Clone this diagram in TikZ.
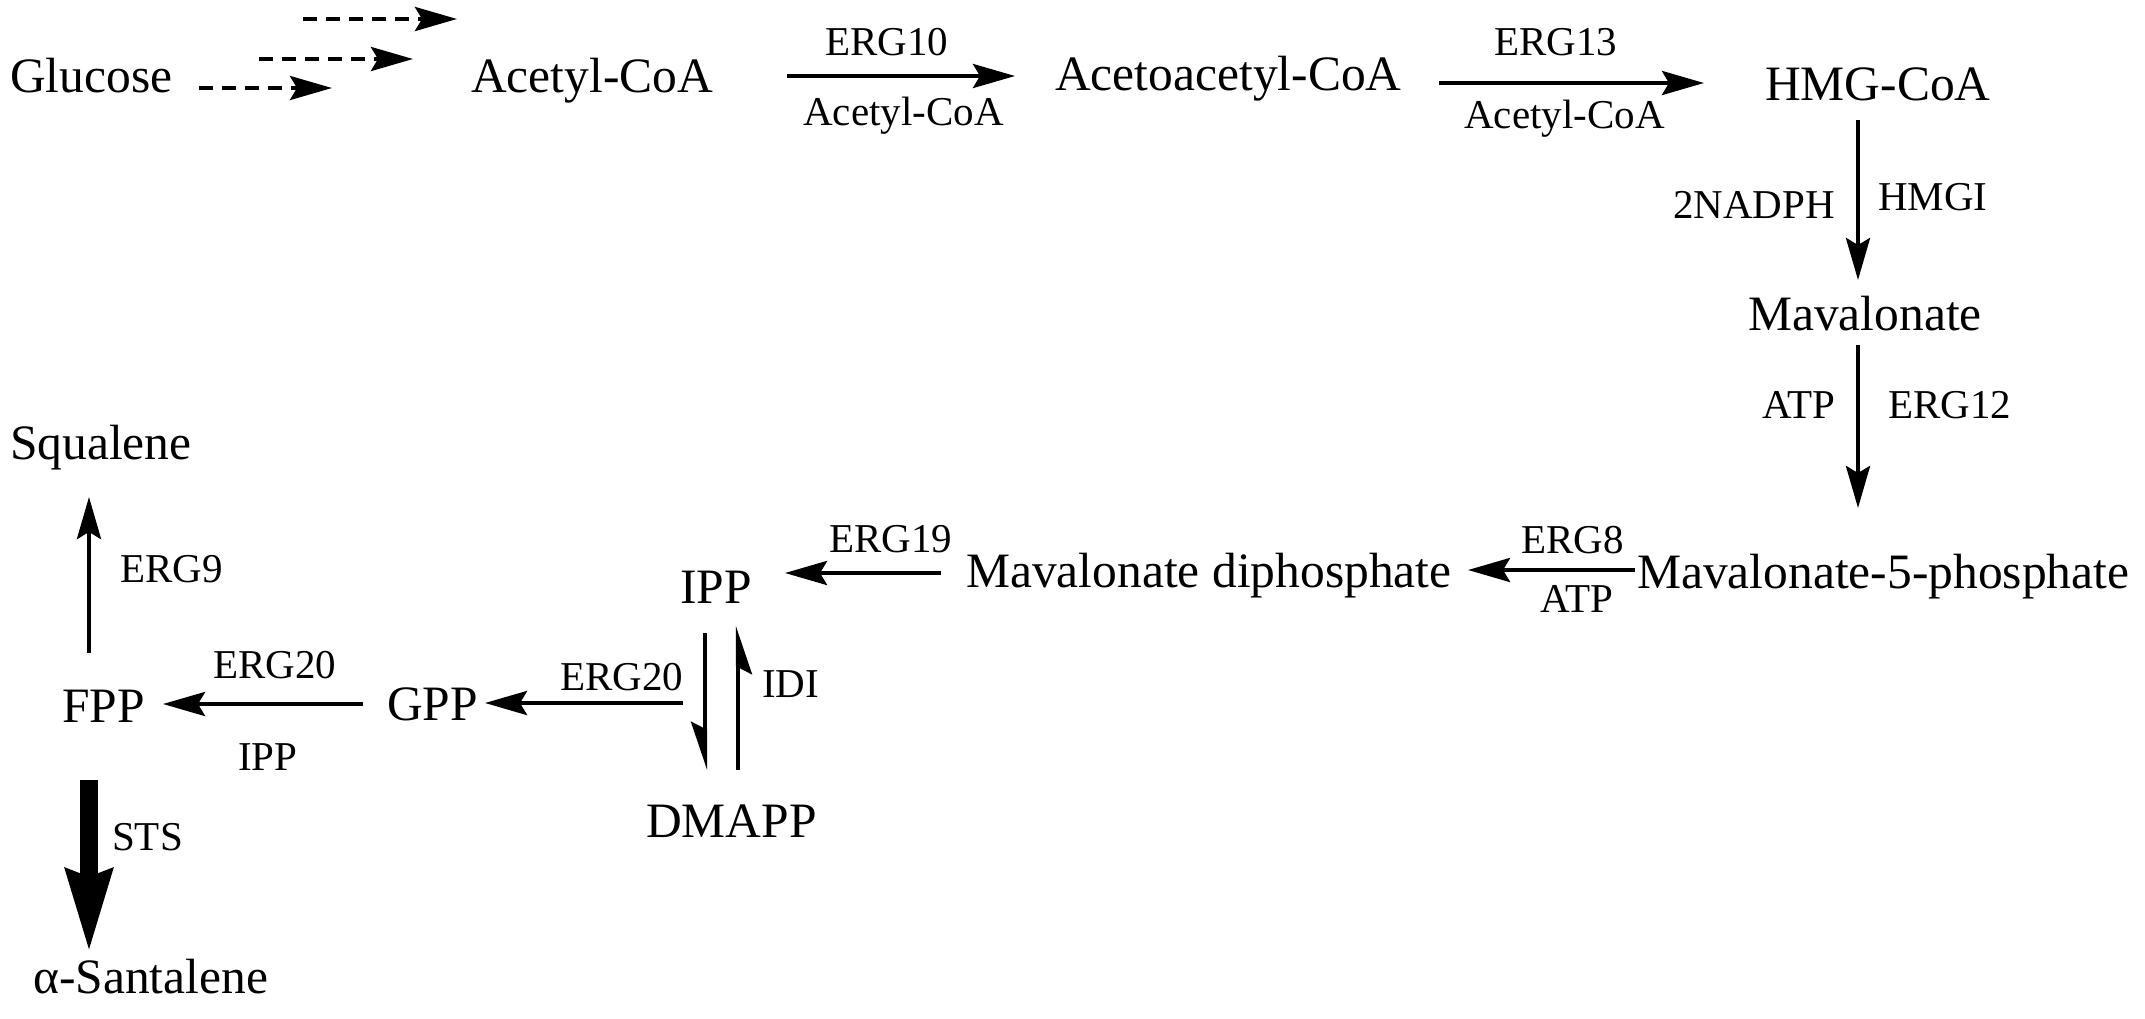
\documentclass[tikz,border=0pt]{standalone}
\usepackage{fontspec}
\setmainfont{Liberation Serif}
\usetikzlibrary{arrows.meta}
\begin{document}
\begin{tikzpicture}[x=1pt,y=-1pt,
  big/.style={font=\fontsize{49.5}{56}\selectfont, inner sep=0pt, anchor=base west},
  small/.style={font=\fontsize{41}{48}\selectfont, inner sep=0pt, anchor=base west},
  arr/.style={line width=4.2pt, -{Stealth[length=42pt,width=24pt,inset=7pt]}},
  dasharr/.style={arr, dash pattern=on 14pt off 9pt},
  harpR/.style={line width=4.2pt, -{Stealth[harpoon,swap,length=42pt,width=28pt,inset=7pt]}},
  thickarr/.style={line width=18pt, -{Stealth[length=82pt,width=44pt,inset=6pt]}}
]
\fill[white] (0,0) rectangle (2145,1018);
\useasboundingbox (0,0) rectangle (2145,1018);

% metabolites
\node[big] (glucose) at (10,92) {Glucose};
\node[big] (acetyl) at (471,92) {Acetyl-CoA};
\node[big] (acetoacetyl) at (1055,90) {Acetoacetyl-CoA};
\node[big] (hmg) at (1765,100) {HMG-CoA};
\node[big] (mev) at (1748,330) {Mavalonate};
\node[big] (mev5p) at (1637,588) {Mavalonate-5-phosphate};
\node[big] (mevpp) at (966,587) {Mavalonate diphosphate};
\node[big] (ipp) at (680,603) {IPP};
\node[big] (dmapp) at (646,837) {DMAPP};
\node[big] (gpp) at (387,720) {GPP};
\node[big] (fpp) at (62,722) {FPP};
\node[big] (squalene) at (10,459) {Squalene};
\node[big] (santalene) at (33,993) {α-Santalene};

% enzyme / cofactor labels
\node[small] (l10) at (825,55) {ERG10};
\node[small] (l10b) at (803,125) {Acetyl-CoA};
\node[small] (l13) at (1494,55) {ERG13};
\node[small] (l13b) at (1464,128) {Acetyl-CoA};
\node[small] (lnadph) at (1673,218) {2NADPH};
\node[small] (lhmgi) at (1878,210) {HMGI};
\node[small] (latp1) at (1762,418) {ATP};
\node[small] (l12) at (1888,418) {ERG12};
\node[small] (l8) at (1521,553) {ERG8};
\node[small] (latp2) at (1540,612) {ATP};
\node[small] (l19) at (829,552) {ERG19};
\node[small] (lidi) at (762,697) {IDI};
\node[small] (l20a) at (560,690) {ERG20};
\node[small] (l20b) at (213,678) {ERG20};
\node[small] (lippb) at (238,770) {IPP};
\node[small] (l9) at (120,582) {ERG9};
\node[small] (lsts) at (112,850) {STS};

% connector end points
\coordinate (d1s) at (303,19);  \coordinate (d1e) at (457,19);
\coordinate (d2s) at (259,59);  \coordinate (d2e) at (413,59);
\coordinate (d3s) at (199,88);  \coordinate (d3e) at (332,88);
\coordinate (a10s) at (787,76); \coordinate (a10e) at (1015,76);
\coordinate (a13s) at (1439,83); \coordinate (a13e) at (1704,83);
\coordinate (ahs) at (1858,120); \coordinate (ahe) at (1858,280);
\coordinate (a12s) at (1858,345); \coordinate (a12e) at (1858,508);
\coordinate (a8s) at (1635,570); \coordinate (a8e) at (1468,570);
\coordinate (a19s) at (941,573); \coordinate (a19e) at (785,573);
\coordinate (hds) at (705,633); \coordinate (hde) at (705,770);
\coordinate (hus) at (738,770); \coordinate (hue) at (738,626);
\coordinate (a20as) at (683,703); \coordinate (a20ae) at (485,703);
\coordinate (a20bs) at (363,704); \coordinate (a20be) at (163,704);
\coordinate (a9s) at (89,653); \coordinate (a9e) at (89,497);
\coordinate (ass) at (89,780); \coordinate (ase) at (89,953);

\draw[dasharr] (d1s) -- (d1e);
\draw[dasharr] (d2s) -- (d2e);
\draw[dasharr] (d3s) -- (d3e);
\draw[arr] (a10s) -- (a10e);
\draw[arr] (a13s) -- (a13e);
\draw[arr] (ahs) -- (ahe);
\draw[arr] (a12s) -- (a12e);
\draw[arr] (a8s) -- (a8e);
\draw[arr] (a19s) -- (a19e);
\draw[harpR] (hds) -- (hde);
\draw[harpR] (hus) -- (hue);
\draw[arr] (a20as) -- (a20ae);
\draw[arr] (a20bs) -- (a20be);
\draw[arr] (a9s) -- (a9e);
\draw[thickarr] (ass) -- (ase);
\end{tikzpicture}
\end{document}
